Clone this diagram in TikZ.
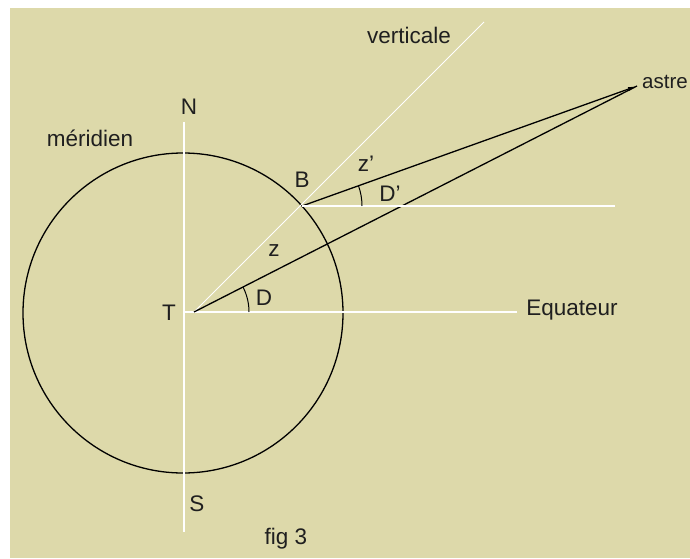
\documentclass[tikz,border=0pt]{standalone}
\usepackage{fontspec}
\setmainfont{Liberation Sans}
\usetikzlibrary{arrows.meta}
\definecolor{bg}{HTML}{DDD9AA}
\begin{document}
\begin{tikzpicture}[x=1pt,y=1pt,
  lbl/.style={font=\fontsize{22.5}{26}\selectfont, text=black!88, inner sep=0pt},
  wline/.style={white, line width=1.4pt},
  bline/.style={black, line width=1.3pt}]
\useasboundingbox (0,0) rectangle (690,558);
\fill[white] (0,0) rectangle (690,558);
\fill[bg] (10,0) rectangle (690,550);
% points
\coordinate (C) at (183,245);
\coordinate (T) at (194,246);
\coordinate (O) at (184,246);
\coordinate (B) at (302,352);
\coordinate (A) at (637,472);
\coordinate (Ntop) at (184,436);
\coordinate (Sbot) at (184,26);
\coordinate (Eq) at (517,246);
\coordinate (V) at (484,536);
\coordinate (Bh) at (615,352);
% meridian circle
\draw[bline] (C) circle[radius=160];
% white lines
\draw[wline] (Ntop) -- (Sbot);
\draw[wline] (O) -- (Eq);
\draw[white, line width=1pt] (T) -- (V);
% lines to the star
\draw[bline] (T) -- (A);
\draw[bline, -{Latex[length=9pt,width=4pt]}] (B) -- (A);
\draw[wline, line width=2pt] (B) -- (Bh);
% angle arcs
\draw[black, line width=1pt] (T) ++(0:55) arc[start angle=0, end angle=27, radius=55];
\draw[black, line width=1pt] (B) ++(0:60) arc[start angle=0, end angle=19.7, radius=60];
% labels
\node[lbl] (lv) at (409,523) {verticale};
\node[lbl, anchor=west, font=\fontsize{20.5}{24}\selectfont] (la) at (642,476) {astre};
\node[lbl] (lN) at (189,451) {N};
\node[lbl] (lm) at (90,420) {méridien};
\node[lbl] (lB) at (302,378) {B};
\node[lbl] (lz1) at (366,394) {z'};
\node[lbl] (lD1) at (390,364) {D'};
\node[lbl] (lz) at (274,307) {z};
\node[lbl] (lD) at (264,260) {D};
\node[lbl] (lT) at (169,245) {T};
\node[lbl] (lE) at (572,248) {Equateur};
\node[lbl] (lS) at (197,54) {S};
\node[lbl] (lf) at (286,19) {fig 3};
\end{tikzpicture}
\end{document}
